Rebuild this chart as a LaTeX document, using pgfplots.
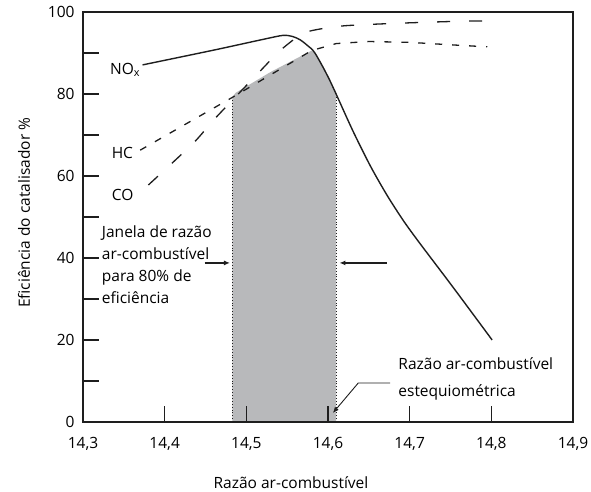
\documentclass[border=0pt]{standalone}
\usepackage{fontspec}
\setmainfont{Open Sans}
\usepackage{pgfplots}
\pgfplotsset{compat=1.18}
\usetikzlibrary{arrows.meta}

\definecolor{windowgray}{HTML}{B8B9BB}
\definecolor{ink}{HTML}{1E1E1E}

\begin{document}
\begin{tikzpicture}
\begin{axis}[
  scale only axis,
  width=490bp, height=410bp,
  xmin=14.3, xmax=14.9, ymin=0, ymax=100,
  xtick={14.3,14.4,14.5,14.6,14.7,14.8,14.9},
  xticklabels={14{,}3,14{,}4,14{,}5,14{,}6,14{,}7,14{,}8,14{,}9},
  ytick={0,20,40,60,80,100},
  minor ytick={10,30,50,70,90},
  tick pos=left,
  tick align=inside,
  major tick length=16bp,
  minor tick length=16bp,
  tick style={ink, line width=1.1bp},
  axis line style={ink, line width=1.1bp},
  axis on top,
  /pgf/number format/assume math mode=true,
  yticklabel={\pgfmathprintnumber[fixed,precision=0]{\tick}},
  xticklabel style={yshift=-12bp},
  yticklabel style={xshift=-5bp},
  font=\fontsize{15.5bp}{18bp}\selectfont,
  clip=false,
]

% 80% efficiency window (gray area under the lower envelope)
\addplot[fill=windowgray, draw=none] coordinates {
  (14.483,0) (14.483,79.3) (14.487,80.3) (14.530,85.4) (14.580,90.6)
  (14.584,90.0) (14.595,86.5) (14.602,83.4) (14.610,80.3) (14.610,0)
} -- cycle;
\addplot[ink, line width=0.9bp, dotted] coordinates {(14.483,0) (14.483,79.3)};
\addplot[ink, line width=0.9bp, dotted] coordinates {(14.610,0) (14.610,80.3)};

% NOx
\addplot[ink, line width=1.4bp, smooth, tension=0.45] coordinates {
  (14.373,87.1) (14.460,90.7) (14.520,93.3) (14.545,94.3) (14.557,94.0)
  (14.566,93.2) (14.575,91.8) (14.584,90.0) (14.602,83.4) (14.630,71.2)
  (14.652,62.4) (14.672,55.4) (14.692,49.2) (14.712,43.7) (14.753,32.9)
  (14.801,20.0)
};

% HC
\addplot[ink, line width=1.3bp, dash pattern=on 7bp off 10bp] coordinates {
  (14.370,66.3) (14.484,79.3) (14.580,90.6) (14.610,92.3) (14.650,92.8)
  (14.700,92.6) (14.750,92.0) (14.795,91.5)
};

% CO
\addplot[ink, line width=1.3bp, dash pattern=on 13bp off 19bp, smooth, tension=0.4] coordinates {
  (14.380,57.8) (14.435,68.0) (14.462,74.1) (14.517,85.6) (14.542,90.7)
  (14.572,95.0) (14.618,96.6) (14.692,97.3) (14.771,97.8) (14.798,97.8)
};

% curve labels
\node[anchor=west, inner sep=0] at (axis cs:14.333,85.9) {NO\textsubscript{x}};
\node[anchor=west, inner sep=0] at (axis cs:14.335,65.6) {HC};
\node[anchor=west, inner sep=0] at (axis cs:14.335,55.4) {CO};

% window annotation
\node[anchor=west, align=left, inner sep=0, font=\fontsize{15.5bp}{22bp}\selectfont]
  at (axis cs:14.323,38.4) {Janela de razão\\ar-combustível\\para 80\% de\\eficiência};
\draw[ink, line width=1.2bp, -{Latex[length=6bp,width=5bp]}]
  (axis cs:14.449,38.8) -- (axis cs:14.480,38.8);
\draw[ink, line width=1.2bp, -{Latex[length=6bp,width=5bp]}]
  (axis cs:14.672,38.8) -- (axis cs:14.614,38.8);

% stoichiometric annotation
\draw[ink, line width=0.9bp, -{Latex[length=6bp,width=5bp]}]
  (axis cs:14.676,9.5) -- (axis cs:14.637,9.5) -- (axis cs:14.606,2.2);
\node[anchor=west, align=left, inner sep=0, font=\fontsize{15.5bp}{27bp}\selectfont]
  at (axis cs:14.686,10.4) {Razão ar-combustível\\estequiométrica};

% axis titles
\node at (rel axis cs:0.4245,0) [yshift=-61bp] {Razão ar-combustível};
\node at (rel axis cs:0,0.51) [xshift=-59bp, rotate=90] {Eficiência do catalisador \%};
\end{axis}
\pgfresetboundingbox
\path (-83bp,-70bp) rectangle (508bp,422bp);
\end{tikzpicture}
\end{document}
